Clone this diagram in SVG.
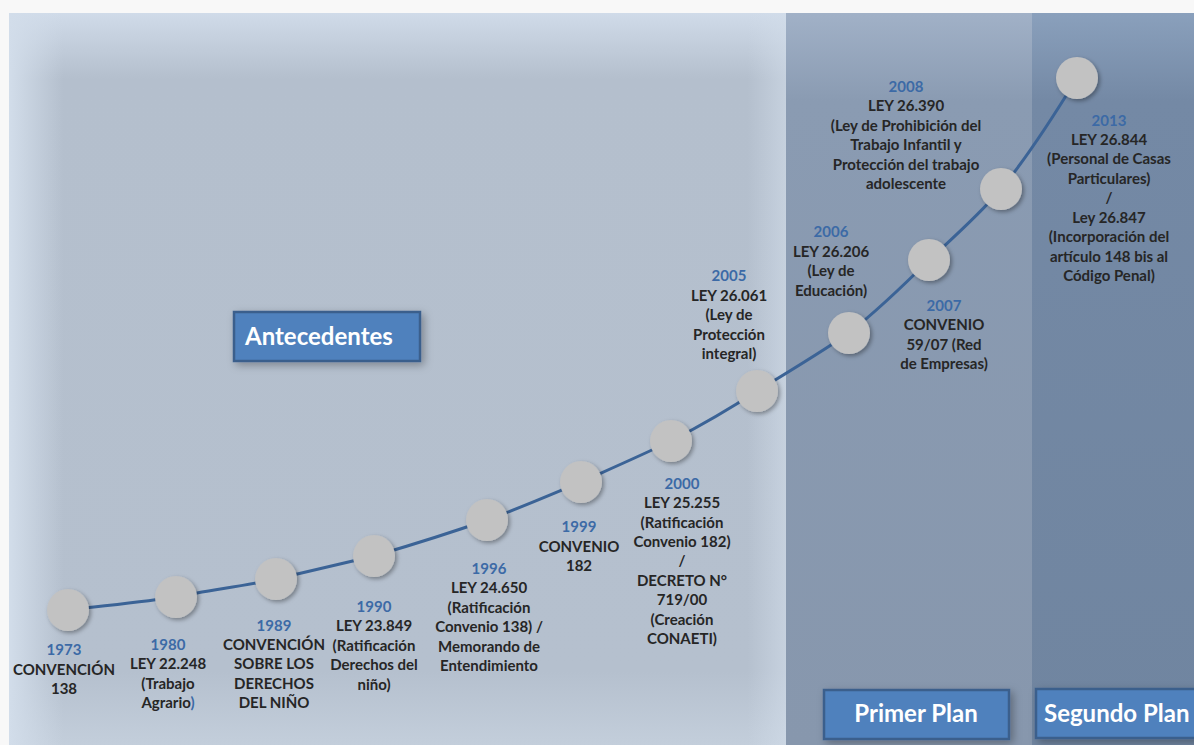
<svg xmlns="http://www.w3.org/2000/svg" width="1194" height="745" viewBox="0 0 1194 745">
<defs>
<linearGradient id="gA" x1="0" y1="0" x2="0" y2="1">
<stop offset="0" stop-color="#d0dbe9"/>
<stop offset="0.09" stop-color="#b4bfcd"/>
<stop offset="0.9" stop-color="#b5c0ce"/>
<stop offset="1" stop-color="#c3cedb"/>
</linearGradient>
<linearGradient id="gAl" x1="0" y1="0" x2="1" y2="0">
<stop offset="0" stop-color="#d2ddea" stop-opacity="1"/>
<stop offset="0.07" stop-color="#d2ddea" stop-opacity="0"/>
<stop offset="0.95" stop-color="#d2ddea" stop-opacity="0"/>
<stop offset="1" stop-color="#d2ddea" stop-opacity="0.6"/>
</linearGradient>
<linearGradient id="gP" x1="0" y1="0" x2="0" y2="1">
<stop offset="0" stop-color="#a1b1c7"/>
<stop offset="0.12" stop-color="#8a9bb2"/>
<stop offset="1" stop-color="#8797ad"/>
</linearGradient>
<linearGradient id="gS" x1="0" y1="0" x2="0" y2="1">
<stop offset="0" stop-color="#8aa0bc"/>
<stop offset="0.12" stop-color="#7489a5"/>
<stop offset="1" stop-color="#7085a0"/>
</linearGradient>
<filter id="sh" x="-50%" y="-50%" width="200%" height="200%">
<feDropShadow dx="2" dy="2" stdDeviation="2" flood-color="#000" flood-opacity="0.35"/>
</filter>
<filter id="bsh" x="-20%" y="-40%" width="140%" height="180%">
<feDropShadow dx="3" dy="3" stdDeviation="4" flood-color="#000" flood-opacity="0.3"/>
</filter>
<style>
.t{font-family:Lato,"Open Sans",sans-serif;font-weight:bold;font-size:15px;fill:#262626;text-anchor:middle}
.y{fill:#3c6aa6}
.dot{fill:#c2c2c2;filter:url(#sh)}
.lbl{fill:#4f81bd;stroke:#3a5f8c;stroke-width:2.5;filter:url(#bsh)}
.lt{font-family:Lato,"Open Sans",sans-serif;font-weight:bold;font-size:24px;fill:#ffffff}
</style>
</defs>
<rect x="0" y="0" width="1194" height="745" fill="#f8f8f8"/>
<rect x="9" y="13" width="777" height="732" fill="url(#gA)"/>
<rect x="9" y="13" width="777" height="732" fill="url(#gAl)"/>
<rect x="786" y="13" width="246" height="732" fill="url(#gP)"/>
<rect x="1032" y="13" width="162" height="732" fill="url(#gS)"/>

<g id="connectors">
<path d="M68,610 C120,604 150,601 176,597 C210,590 245,586 276,579 C310,571 340,564 374,556 C415,544 450,533 487,520 C520,508 550,495 581,482 C610,469 640,456 671,441 C700,426 728,410 757,391 C790,371 820,353 849,333 C878,310 904,285 929,260 C955,236 980,214 1001,189 C1030,154 1055,114 1077,78" fill="none" stroke="#3b6396" stroke-width="3"/>
</g>

<g id="n1973"><circle class="dot" cx="68" cy="610" r="21"/>
<text class="t"><tspan class="y" x="64" y="655">1973</tspan><tspan x="64" y="675">CONVENCIÓN</tspan><tspan x="64" y="694">138</tspan></text></g>
<g id="n1980"><circle class="dot" cx="176" cy="597" r="21"/>
<text class="t"><tspan class="y" x="168" y="650">1980</tspan><tspan x="168" y="669">LEY 22.248</tspan><tspan x="168" y="689">(Trabajo</tspan><tspan x="168" y="708">Agrario<tspan class="y">)</tspan></tspan></text></g>
<g id="n1989"><circle class="dot" cx="276" cy="579" r="21"/>
<text class="t"><tspan class="y" x="274" y="631">1989</tspan><tspan x="274" y="650">CONVENCIÓN</tspan><tspan x="274" y="669">SOBRE LOS</tspan><tspan x="274" y="689">DERECHOS</tspan><tspan x="274" y="708">DEL NIÑO</tspan></text></g>
<g id="n1990"><circle class="dot" cx="374" cy="556" r="21"/>
<text class="t"><tspan class="y" x="374" y="612">1990</tspan><tspan x="374" y="631">LEY 23.849</tspan><tspan x="374" y="651">(Ratificación</tspan><tspan x="374" y="670">Derechos del</tspan><tspan x="374" y="690">niño)</tspan></text></g>
<g id="n1996"><circle class="dot" cx="487" cy="520" r="21"/>
<text class="t"><tspan class="y" x="489" y="574">1996</tspan><tspan x="489" y="593">LEY 24.650</tspan><tspan x="489" y="613">(Ratificación</tspan><tspan x="489" y="632">Convenio 138) /</tspan><tspan x="489" y="652">Memorando de</tspan><tspan x="489" y="671">Entendimiento</tspan></text></g>
<g id="n1999"><circle class="dot" cx="581" cy="482" r="21"/>
<text class="t"><tspan class="y" x="579" y="532">1999</tspan><tspan x="579" y="552">CONVENIO</tspan><tspan x="579" y="571">182</tspan></text></g>
<g id="n2000"><circle class="dot" cx="671" cy="441" r="21"/>
<text class="t"><tspan class="y" x="682" y="489">2000</tspan><tspan x="682" y="508">LEY 25.255</tspan><tspan x="682" y="528">(Ratificación</tspan><tspan x="682" y="547">Convenio 182)</tspan><tspan x="682" y="566">/</tspan><tspan x="682" y="586">DECRETO N°</tspan><tspan x="682" y="605">719/00</tspan><tspan x="682" y="625">(Creación</tspan><tspan x="682" y="644">CONAETI)</tspan></text></g>
<g id="n2005"><circle class="dot" cx="757" cy="391" r="21"/>
<text class="t"><tspan class="y" x="729" y="281">2005</tspan><tspan x="729" y="301">LEY 26.061</tspan><tspan x="729" y="320">(Ley de</tspan><tspan x="729" y="340">Protección</tspan><tspan x="729" y="359">integral)</tspan></text></g>
<g id="n2006"><circle class="dot" cx="849" cy="333" r="21"/>
<text class="t"><tspan class="y" x="831" y="237">2006</tspan><tspan x="831" y="257">LEY 26.206</tspan><tspan x="831" y="276">(Ley de</tspan><tspan x="831" y="296">Educación)</tspan></text></g>
<g id="n2007"><circle class="dot" cx="929" cy="260" r="21"/>
<text class="t"><tspan class="y" x="944" y="311">2007</tspan><tspan x="944" y="330">CONVENIO</tspan><tspan x="944" y="350">59/07 (Red</tspan><tspan x="944" y="369">de Empresas)</tspan></text></g>
<g id="n2008"><circle class="dot" cx="1001" cy="189" r="21"/>
<text class="t"><tspan class="y" x="906" y="92">2008</tspan><tspan x="906" y="111">LEY 26.390</tspan><tspan x="906" y="131">(Ley de Prohibición del</tspan><tspan x="906" y="150">Trabajo Infantil y</tspan><tspan x="906" y="170">Protección del trabajo</tspan><tspan x="906" y="189">adolescente</tspan></text></g>
<g id="n2013"><circle class="dot" cx="1077" cy="78" r="21"/>
<text class="t"><tspan class="y" x="1109" y="126">2013</tspan><tspan x="1109" y="145">LEY 26.844</tspan><tspan x="1109" y="164">(Personal de Casas</tspan><tspan x="1109" y="184">Particulares)</tspan><tspan x="1109" y="203">/</tspan><tspan x="1109" y="223">Ley 26.847</tspan><tspan x="1109" y="242">(Incorporación del</tspan><tspan x="1109" y="262">artículo 148 bis al</tspan><tspan x="1109" y="281">Código Penal)</tspan></text></g>

<g id="antecedentes"><rect class="lbl" x="234" y="312" width="186" height="49"/>
<text class="lt" x="245" y="345">Antecedentes</text></g>
<g id="primer-plan"><rect class="lbl" x="824" y="690" width="185" height="49"/>
<text class="lt" x="916" y="722" text-anchor="middle">Primer Plan</text></g>
<g id="segundo-plan"><rect class="lbl" x="1036" y="689" width="170" height="49"/>
<text class="lt" x="1044" y="722">Segundo Plan</text></g>
</svg>
